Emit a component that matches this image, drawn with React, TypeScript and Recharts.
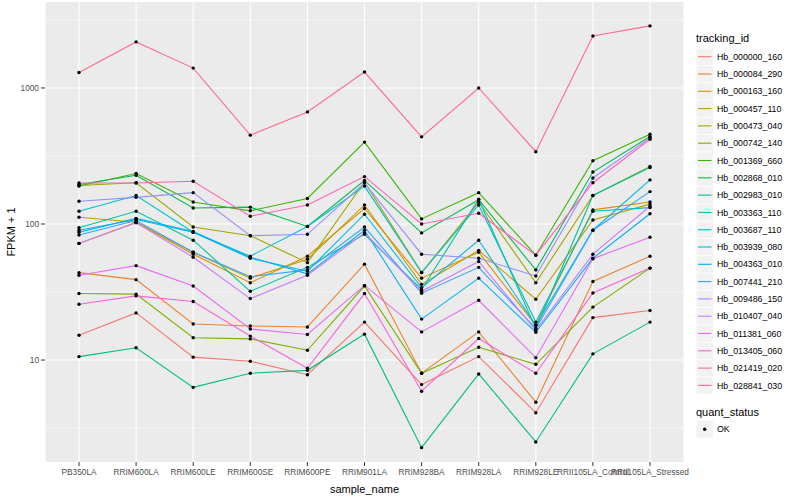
import React from 'react'
import { LineChart, Line, XAxis, YAxis, CartesianGrid, Label } from 'recharts'

const samples = [
  'PB350LA', 'RRIM600LA', 'RRIM600LE', 'RRIM600SE', 'RRIM600PE', 'RRIM901LA',
  'RRIM928BA', 'RRIM928LA', 'RRIM928LE', 'RRII105LA_Control', 'RRII105LA_Stressed',
]

// FPKM + 1, one array per tracking_id, in sample order
const hb000000_160 = [15.2, 22.2, 10.5, 9.8, 7.8, 19.0, 6.6, 10.6, 4.1, 20.5, 23.1]
const hb000084_290 = [43.9, 39, 18.4, 17.8, 17.5, 50.7, 8.0, 16.1, 4.9, 37.8, 58]
const hb000163_160 = [72, 103, 60, 37, 58, 130, 40, 62, 18, 127, 145]
const hb000457_110 = [112, 103, 62, 40, 55, 138, 36, 64, 28, 107, 140]
const hb000473_040 = [192, 201, 95, 82, 52, 204, 44, 145, 37, 162, 265]
const hb000742_140 = [30.8, 30.5, 14.6, 14.3, 11.8, 35, 8.0, 12.4, 9.3, 24.5, 47.4]
const hb001369_660 = [190, 235, 145, 125, 154, 400, 109, 170, 59, 292, 457]
const hb002868_010 = [195, 228, 131, 133, 96, 209, 86, 151, 46, 241, 440]
const hb002983_010 = [10.6, 12.3, 6.3, 8.0, 8.4, 15.5, 2.27, 7.9, 2.5, 11.1, 19.0]
const hb003363_110 = [94, 124, 76, 32, 48, 84, 33, 152, 17, 162, 260]
const hb003687_110 = [124, 162, 87, 58, 96, 190, 44, 138, 19, 124, 132]
const hb003939_080 = [90, 108, 87, 56, 45, 118, 34, 76, 18, 90, 211]
const hb004363_010 = [87, 110, 88, 57, 43, 90, 20, 40, 16, 56, 119]
const hb007441_210 = [83, 106, 62, 41, 46, 95, 31, 48, 17, 90, 173]
const hb009486_150 = [147, 157, 170, 82, 84, 200, 60, 56, 41.5, 218, 430]
const hb010407_040 = [72, 102, 57, 28.3, 42, 86, 32, 53, 16.5, 60, 135]
const hb011381_060 = [42, 49.4, 35, 16.9, 15.4, 35.4, 16.1, 27.5, 10.4, 55.6, 80]
const hb013405_060 = [25.7, 29.6, 26.9, 15, 8.7, 30.8, 5.9, 14.4, 8.0, 31.1, 47.4]
const hb021419_020 = [200, 200, 206, 114, 138, 223, 100, 120, 59, 201, 420]
const hb028841_030 = [1300, 2180, 1400, 450, 667, 1310, 437, 1000, 340, 2410, 2860]

const series = [
  { id: 'Hb_000000_160', color: '#F8766D', values: hb000000_160 },
  { id: 'Hb_000084_290', color: '#EA8331', values: hb000084_290 },
  { id: 'Hb_000163_160', color: '#D89000', values: hb000163_160 },
  { id: 'Hb_000457_110', color: '#C09B00', values: hb000457_110 },
  { id: 'Hb_000473_040', color: '#A3A500', values: hb000473_040 },
  { id: 'Hb_000742_140', color: '#7CAE00', values: hb000742_140 },
  { id: 'Hb_001369_660', color: '#39B600', values: hb001369_660 },
  { id: 'Hb_002868_010', color: '#00BB4E', values: hb002868_010 },
  { id: 'Hb_002983_010', color: '#00BF7D', values: hb002983_010 },
  { id: 'Hb_003363_110', color: '#00C1A3', values: hb003363_110 },
  { id: 'Hb_003687_110', color: '#00BFC4', values: hb003687_110 },
  { id: 'Hb_003939_080', color: '#00BAE0', values: hb003939_080 },
  { id: 'Hb_004363_010', color: '#00B0F6', values: hb004363_010 },
  { id: 'Hb_007441_210', color: '#35A2FF', values: hb007441_210 },
  { id: 'Hb_009486_150', color: '#9590FF', values: hb009486_150 },
  { id: 'Hb_010407_040', color: '#C77CFF', values: hb010407_040 },
  { id: 'Hb_011381_060', color: '#E76BF3', values: hb011381_060 },
  { id: 'Hb_013405_060', color: '#FA62DB', values: hb013405_060 },
  { id: 'Hb_021419_020', color: '#FF62BC', values: hb021419_020 },
  { id: 'Hb_028841_030', color: '#FF6C91', values: hb028841_030 },
]

const majorTicks = [10, 100, 1000]
const minorTicks = [Math.sqrt(10), Math.sqrt(1000), Math.sqrt(100000), Math.sqrt(10000000)]

const data = samples.map((sample, i) => {
  const row: Record<string, string | number> = { sample }
  series.forEach(s => { row[s.id] = s.values[i] })
  return row
})

const font = '"Liberation Sans", Arial, Helvetica, sans-serif'

export default function App() {
  return (
    <div style={{ position: 'absolute', left: 0, top: 0, width: 800, height: 500, background: '#fff', fontFamily: font }}>
      <LineChart width={800} height={500} data={data} margin={{ top: 2, right: 116, bottom: 0, left: 0 }}>
        <CartesianGrid fill="#EBEBEB" stroke="#FFFFFF" strokeWidth={0.55} vertical={false} horizontalValues={minorTicks} />
        <CartesianGrid stroke="#FFFFFF" strokeWidth={1.1} horizontalValues={majorTicks} />
        <XAxis
          dataKey="sample"
          interval={0}
          height={38}
          padding={{ left: 34, right: 34 }}
          axisLine={false}
          tickSize={4}
          tickMargin={3}
          tickLine={{ stroke: '#333333' }}
          tick={{ fontSize: 8.3, fill: '#4D4D4D', fontFamily: font }}
        >
          <Label value="sample_name" position="insideBottom" offset={7} style={{ fontSize: 11, fill: '#000', fontFamily: font }} />
        </XAxis>
        <YAxis
          type="number"
          scale="log"
          domain={[1.78, 4285]}
          allowDataOverflow
          ticks={majorTicks}
          width={45}
          axisLine={false}
          tickSize={4}
          tickMargin={2}
          tickLine={{ stroke: '#333333' }}
          tick={{ fontSize: 8.3, fill: '#4D4D4D', fontFamily: font }}
        >
          <Label
            content={() => (
              <text x={15} y={232} transform="rotate(-90 15 232)" textAnchor="middle" fontSize={11} fill="#000" fontFamily={font}>
                FPKM + 1
              </text>
            )}
          />
        </YAxis>
        {series.map(s => (
          <Line
            key={s.id}
            dataKey={s.id}
            stroke={s.color}
            strokeWidth={1.1}
            type="linear"
            dot={{ r: 1.7, fill: '#000', stroke: '#000', strokeWidth: 0 }}
            activeDot={false}
            isAnimationActive={false}
          />
        ))}
      </LineChart>
      <svg width={800} height={500} style={{ position: 'absolute', left: 0, top: 0, pointerEvents: 'none' }}>
        <text x={696} y={42} fontSize={11} fill="#000" fontFamily={font}>tracking_id</text>
        {series.map((s, i) => {
          const cy = 56.7 + i * 17.3
          return (
            <g key={s.id}>
              <rect x={696.5} y={cy - 8.2} width={16.5} height={16.5} fill="#F2F2F2" />
              <line x1={698} x2={711.5} y1={cy} y2={cy} stroke={s.color} strokeWidth={1.1} />
              <text x={717} y={cy + 3.1} fontSize={8.8} fill="#000" fontFamily={font}>{s.id}</text>
            </g>
          )
        })}
        <text x={696} y={416} fontSize={11} fill="#000" fontFamily={font}>quant_status</text>
        <rect x={696.5} y={421} width={16.5} height={16.5} fill="#F2F2F2" />
        <circle cx={704.7} cy={429.2} r={1.7} fill="#000" />
        <text x={717} y={432.3} fontSize={8.8} fill="#000" fontFamily={font}>OK</text>
      </svg>
    </div>
  )
}
